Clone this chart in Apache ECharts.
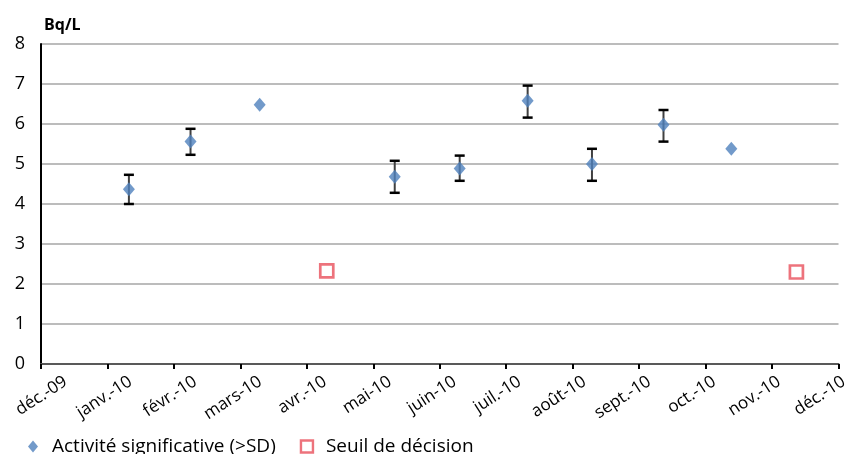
<!DOCTYPE html>
<html><head><meta charset="utf-8">
<script src="https://cdn.jsdelivr.net/npm/echarts@6/dist/echarts.min.js"></script>
<style>html,body{margin:0;padding:0;background:#fff}#c{width:851px;height:454px}</style>
</head><body><div id="c"></div>
<script>
// Month tick labels (Dec 2009 .. Dec 2010)
const monthLabels = ['déc.-09','janv.-10','févr.-10','mars-10','avr.-10','mai-10','juin-10','juil.-10','août-10','sept.-10','oct.-10','nov.-10','déc.-10'];
// Significant activity (Bq/L) with uncertainty
const actDates  = ['2010-01-11','2010-02-08','2010-03-10','2010-05-11','2010-06-10','2010-07-11','2010-08-10','2010-09-12','2010-10-13'];
const actValues = [4.37, 5.56, 6.48, 4.68, 4.89, 6.58, 5.0, 5.98, 5.38];
const actLow    = [4.0, 5.23, null, 4.28, 4.58, 6.16, 4.58, 5.56, null];
const actHigh   = [4.73, 5.88, null, 5.08, 5.21, 6.96, 5.38, 6.35, null];
// Decision threshold
const seuilDates  = ['2010-04-10','2010-11-12'];
const seuilValues = [2.33, 2.3];

// Convert date string to month position on an axis where 0 = 1 Dec 2009
function monthPos(s){
  const [y,m,d] = s.split('-').map(Number);
  const dim = new Date(y, m, 0).getDate();
  return (y-2009)*12 + (m-12) + (d-1)/dim;
}
const FONT = 'Open Sans';
const actData = actDates.map((d,i)=>[monthPos(d), actValues[i]]);
const errData = actDates.map((d,i)=>[monthPos(d), actLow[i], actHigh[i]]).filter(r=>r[1]!=null);
const seuilData = seuilDates.map((d,i)=>[monthPos(d), seuilValues[i]]);

const chart = echarts.init(document.getElementById('c'));
chart.setOption({
  animation:false,
  textStyle:{fontFamily:FONT},
  title:{text:'Bq/L', left:39, top:12, textStyle:{fontFamily:FONT, fontSize:16, fontWeight:'bold', color:'#000'}},
  grid:[
    {left:41, right:12.5, top:44, bottom:90},
    {left:61, width:785, top:44, bottom:90}
  ],
  xAxis:[
    {type:'value', gridIndex:0, min:0, max:12, interval:1,
     axisLine:{show:true, onZero:false, lineStyle:{color:'#595959', width:2}},
     axisTick:{show:true, inside:false, length:5, lineStyle:{color:'#000', width:2}},
     axisLabel:{show:false}, splitLine:{show:false}},
    {type:'value', gridIndex:1, min:0, max:12, interval:1,
     axisLine:{show:false}, axisTick:{show:false}, splitLine:{show:false},
     axisLabel:{show:true, rotate:33, margin:9, align:'right', verticalAlign:'top',
       fontFamily:FONT, fontSize:17, color:'#000',
       formatter:v=>monthLabels[Math.round(v)]}}
  ],
  yAxis:[
    {type:'value', gridIndex:0, min:0, max:8, interval:1,
     axisLine:{show:true, lineStyle:{color:'#000', width:2}},
     axisTick:{show:false},
     axisLabel:{fontFamily:FONT, fontSize:18, color:'#000', margin:16},
     splitLine:{show:true, lineStyle:{color:'#a6a6a6', width:1.5}}},
    {type:'value', gridIndex:1, min:0, max:8, show:false}
  ],
  legend:{
    left:23, top:432, itemGap:24, itemWidth:28, itemHeight:12,
    textStyle:{fontFamily:FONT, fontSize:19, color:'#000'},
    data:[
      {name:'Activité significative (>SD)', icon:'path://M5,0 L10,6 L5,12 L0,6 Z'},
      {name:'Seuil de décision', icon:'path://M0,0 L12,0 L12,12 L0,12 Z', itemStyle:{color:'#fff', borderColor:'#E8505B', borderWidth:2.4}}
    ]
  },
  series:[
    {type:'custom', name:'err', xAxisIndex:0, yAxisIndex:0, z:2,
     data:errData,
     renderItem:(params, api)=>{
       const x = api.value(0);
       const lo = api.coord([x, api.value(1)]);
       const hi = api.coord([x, api.value(2)]);
       const hw = 5;
       const st = {stroke:'#000', lineWidth:2.5};
       return {type:'group', children:[
         {type:'line', shape:{x1:lo[0],y1:lo[1],x2:hi[0],y2:hi[1]}, style:{stroke:'#404040', lineWidth:2}},
         {type:'line', shape:{x1:lo[0]-hw,y1:lo[1],x2:lo[0]+hw,y2:lo[1]}, style:st},
         {type:'line', shape:{x1:hi[0]-hw,y1:hi[1],x2:hi[0]+hw,y2:hi[1]}, style:st}
       ]};
     }},
    {type:'scatter', name:'Activité significative (>SD)', xAxisIndex:0, yAxisIndex:0, z:5,
     symbol:'diamond', symbolSize:[12,14], itemStyle:{color:'#4F81BD'}, data:actData},
    {type:'scatter', name:'Seuil de décision', xAxisIndex:0, yAxisIndex:0, z:5,
     symbol:'rect', symbolSize:13, itemStyle:{color:'#fff', borderColor:'#E8505B', borderWidth:2.7}, data:seuilData}
  ]
});
</script></body></html>
